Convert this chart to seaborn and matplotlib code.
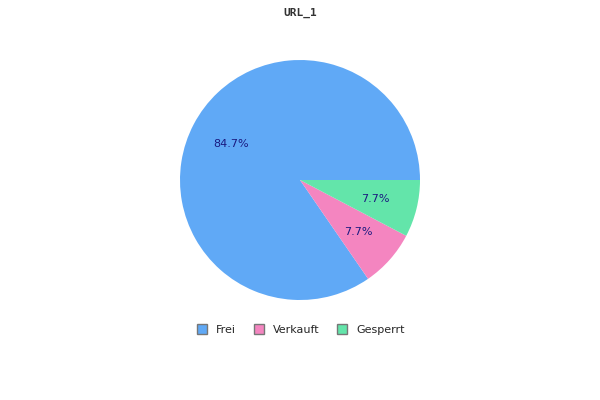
import matplotlib
matplotlib.use("Agg")
import matplotlib.pyplot as plt
from matplotlib.lines import Line2D
import numpy as np
import seaborn as sns

categories = ["Frei", "Verkauft", "Gesperrt"]
values = [84.6, 7.7, 7.7]
pct_labels = ["84.7%", "7.7%", "7.7%"]
colors = ["#60a9f6", "#f485c0", "#63e5aa"]

sns.set_theme(style="white")
plt.rcParams["font.family"] = ["DejaVu Sans"]

fig = plt.figure(figsize=(6, 4), dpi=100)
ax = fig.add_axes([180 / 600, 100 / 400, 240 / 600, 240 / 400])

wedges, texts = ax.pie(values, colors=colors, startangle=0, counterclock=True,
                       wedgeprops=dict(linewidth=0))
for w, lab in zip(wedges, pct_labels):
    ang = np.deg2rad((w.theta1 + w.theta2) / 2)
    ax.text(0.65 * np.cos(ang), 0.65 * np.sin(ang), lab, ha="center", va="center",
            fontsize=8, color="#1a1a80")
ax.set_xlim(-1, 1)
ax.set_ylim(-1, 1)
ax.set_aspect("equal")
ax.axis("off")

fig.text(0.5, 1 - 13 / 400, "URL_1", ha="center", va="center", fontsize=8,
         fontweight="bold", family="DejaVu Sans Mono", color="#333333")

handles = [Line2D([], [], marker="s", linestyle="none", markersize=7,
                  markerfacecolor=c, markeredgecolor="#777777", markeredgewidth=1)
           for c in colors]
fig.legend(handles, categories, loc="center", bbox_to_anchor=(0.5, 1 - 330 / 400),
           ncol=3, frameon=False, fontsize=8, handletextpad=0.7,
           columnspacing=1.4, handlelength=1.2)

fig.savefig("out.png", dpi=100)
